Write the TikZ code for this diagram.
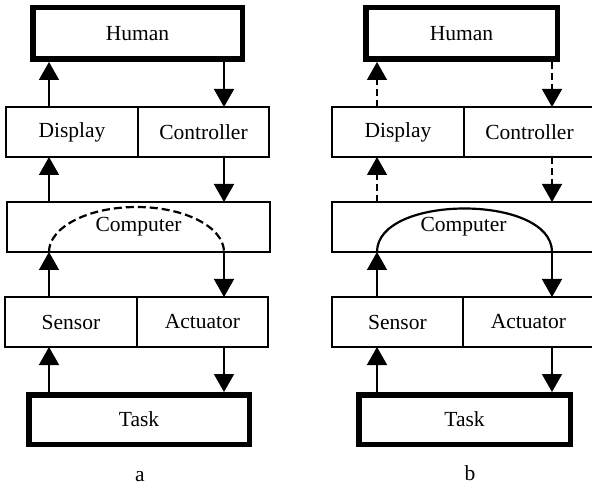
\documentclass[tikz,border=0pt]{standalone}
\usepackage{fontspec}
\setmainfont{Liberation Serif}
\usetikzlibrary{arrows.meta,positioning}

\begin{document}
\begin{tikzpicture}[
			x=1pt, y=-1pt,
			>={Triangle[length=18pt,width=20pt]},
			box/.style={
					rectangle,
					draw=black,
					line width=1.5pt,
					minimum height=50pt,
					inner sep=0pt,
					outer sep=0pt,
					font=\fontsize{21.5}{24}\selectfont
				},
			half/.style={box, minimum width=132pt},
			wide/.style={box, minimum width=263pt},
			ends/.style={box, line width=5.5pt, outer sep=2.75pt, minimum height=51.5pt},
			link/.style={->, line width=1.6pt},
			faint/.style={link, line width=1.4pt, dash pattern=on 7pt off 4pt},
			loop/.style={line width=2.2pt}
		]
		\useasboundingbox (0,0) rectangle (592,489);

		% Columns of the arrows
		\coordinate (lA) at (49,0);
		\coordinate (rA) at (224,0);
		\coordinate (lB) at (377,0);
		\coordinate (rB) at (552,0);

		% Nodes (a)
		\node[ends, minimum width=209.5pt] (humA) at (137.5,33.5) {Human};
		\node[half] (dispA) at (72,132) {Display};
		\node[half, minimum width=131pt, right=0pt of dispA] (ctrlA) {Controller};
		\node[wide] (compA) at (138.5,227) {Computer};
		\node[half] (sensA) at (71,322) {Sensor};
		\node[half, minimum width=131pt, right=0pt of sensA] (actA) {Actuator};
		\node[ends, minimum width=220.5pt, minimum height=49.5pt] (taskA) at (139,419.5) {Task};
		\node[font=\fontsize{21.5}{24}\selectfont] (capA) at (140,477) {a};

		% Nodes (b)
		\node[ends, minimum width=191.5pt] (humB) at (461.5,33.5) {Human};
		\node[half] (dispB) at (398,132) {Display};
		\node[half, minimum width=131pt, right=0pt of dispB] (ctrlB) {Controller};
		\node[wide] (compB) at (463.5,227) {Computer};
		\node[half, minimum width=131pt] (sensB) at (397.5,322) {Sensor};
		\node[half, minimum width=131pt, right=0pt of sensB] (actB) {Actuator};
		\node[ends, minimum width=211.5pt, minimum height=49.5pt] (taskB) at (464.5,419.5) {Task};
		\node[font=\fontsize{21.5}{24}\selectfont] (capB) at (470,473) {b};

		% Arrows (a)
		\draw[link] (dispA.north -| lA) -- (humA.south -| lA);
		\draw[link] (humA.south -| rA) -- (ctrlA.north -| rA);
		\draw[link] (compA.north -| lA) -- (dispA.south -| lA);
		\draw[link] (ctrlA.south -| rA) -- (compA.north -| rA);
		\draw[loop, dash pattern=on 8pt off 4pt] (compA.south -| lA) arc[start angle=180, end angle=0, x radius=87.5pt, y radius=45pt];
		\draw[link] (sensA.north -| lA) -- (compA.south -| lA);
		\draw[link] (compA.south -| rA) -- (actA.north -| rA);
		\draw[link] (taskA.north -| lA) -- (sensA.south -| lA);
		\draw[link] (actA.south -| rA) -- (taskA.north -| rA);

		% Arrows (b)
		\draw[faint] (dispB.north -| lB) -- (humB.south -| lB);
		\draw[faint] (humB.south -| rB) -- (ctrlB.north -| rB);
		\draw[faint] (compB.north -| lB) -- (dispB.south -| lB);
		\draw[faint] (ctrlB.south -| rB) -- (compB.north -| rB);
		\draw[loop] (compB.south -| lB) .. controls +(0,-58) and +(0,-58) .. (compB.south -| rB);
		\draw[link] (sensB.north -| lB) -- (compB.south -| lB);
		\draw[link] (compB.south -| rB) -- (actB.north -| rB);
		\draw[link] (taskB.north -| lB) -- (sensB.south -| lB);
		\draw[link] (actB.south -| rB) -- (taskB.north -| rB);

	\end{tikzpicture}
\end{document}
